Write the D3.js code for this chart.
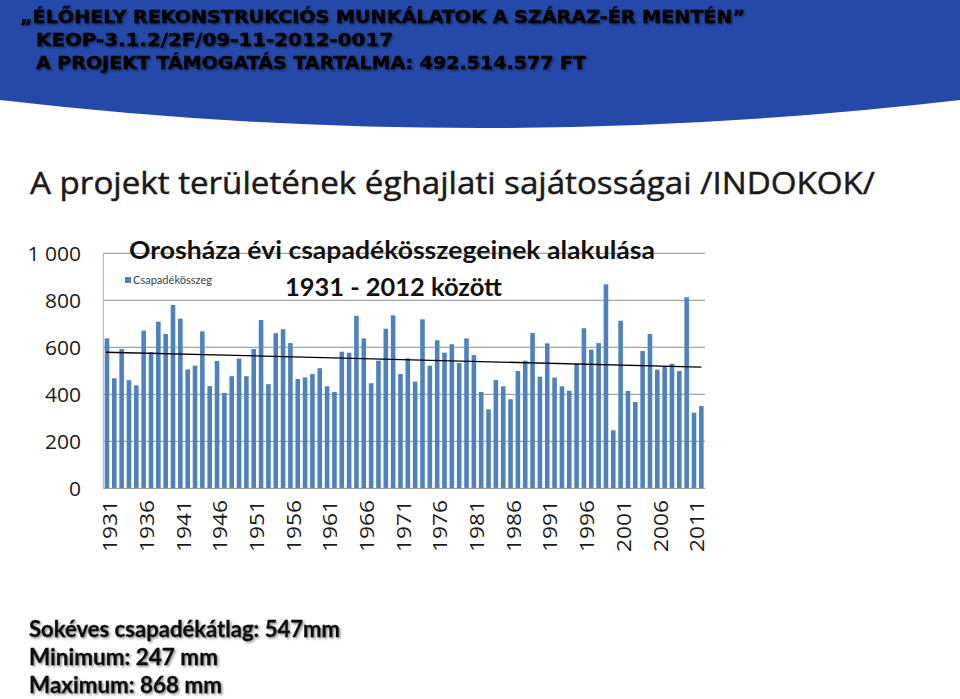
<!DOCTYPE html>
<html><head><meta charset="utf-8">
<script src="https://cdn.jsdelivr.net/npm/d3@7/dist/d3.min.js"></script>
<style>html,body{margin:0;padding:0;background:#fff;overflow:hidden}</style>
</head><body>
<svg id="c" width="960" height="699"></svg>
<script>
const headerLines = ["„ÉLŐHELY REKONSTRUKCIÓS MUNKÁLATOK A SZÁRAZ-ÉR MENTÉN”", "KEOP-3.1.2/2F/09-11-2012-0017", "A PROJEKT TÁMOGATÁS TARTALMA: 492.514.577 FT"];
const pageTitle = "A projekt területének éghajlati sajátosságai /INDOKOK/";
const chartTitle = ["Orosháza évi csapadékösszegeinek alakulása", "1931 - 2012 között"];
const seriesName = "Csapadékösszeg";
const years = [1931,1932,1933,1934,1935,1936,1937,1938,1939,1940,1941,1942,1943,1944,1945,1946,1947,1948,1949,1950,1951,1952,1953,1954,1955,1956,1957,1958,1959,1960,1961,1962,1963,1964,1965,1966,1967,1968,1969,1970,1971,1972,1973,1974,1975,1976,1977,1978,1979,1980,1981,1982,1983,1984,1985,1986,1987,1988,1989,1990,1991,1992,1993,1994,1995,1996,1997,1998,1999,2000,2001,2002,2003,2004,2005,2006,2007,2008,2009,2010,2011,2012];
const precipitation = [638,468,593,460,438,671,580,709,657,780,722,506,522,668,435,542,406,477,552,477,593,716,443,660,677,618,465,472,486,511,434,410,581,577,734,638,447,543,679,736,486,553,454,719,522,630,577,613,533,638,567,410,336,461,434,379,499,543,661,475,617,471,434,415,529,681,590,618,868,247,713,414,367,584,657,505,520,530,499,813,322,350];
const trendValues = [579, 516];
const yTicks = [0, 200, 400, 600, 800, 1000];
const xTickLabels = [1931,1936,1941,1946,1951,1956,1961,1966,1971,1976,1981,1986,1991,1996,2001,2006,2011];
const footerLines = ["Sokéves csapadékátlag: 547mm", "Minimum: 247 mm", "Maximum: 868 mm"];

const svg = d3.select("#c");
const defs = svg.append("defs");
const f = defs.append("filter").attr("id","sh").attr("x","-5%").attr("y","-30%").attr("width","110%").attr("height","160%");
f.append("feDropShadow").attr("dx",1.5).attr("dy",1.5).attr("stdDeviation",1).attr("flood-color","#000").attr("flood-opacity",0.45);

// header band
svg.append("path").attr("d","M0,0 H960 V100 Q480,156 0,100 Z").attr("fill","#2549a9");

const hdr = [{x:20,y:23,len:725},{x:36,y:46,len:357},{x:36,y:69,len:550}];
headerLines.forEach((t,i)=>{
  svg.append("text").attr("x",hdr[i].x).attr("y",hdr[i].y).text(t)
    .attr("font-family","DejaVu Sans").attr("font-weight","bold").attr("font-size",18.5)
    .attr("fill","#000").attr("stroke","#000").attr("stroke-width",0.4).attr("filter","url(#sh)")
    .attr("textLength",hdr[i].len).attr("lengthAdjust","spacingAndGlyphs");
});

svg.append("text").attr("x",30).attr("y",194).text(pageTitle)
  .attr("font-family","Open Sans").attr("font-size",31).attr("fill","#1a1a1a")
  .attr("stroke","#1a1a1a").attr("stroke-width",0.5)
  .attr("textLength",845).attr("lengthAdjust","spacingAndGlyphs");

// chart
const L=103.3, R=705, T=253.3, B=488.3;
const x = d3.scaleBand().domain(years).range([L,R]).paddingInner(0.375).paddingOuter(0.1875);
const y = d3.scaleLinear().domain([0,1000]).range([B,T]);

const g = svg.append("g");
g.selectAll("line.grid").data(yTicks.filter(d=>d>0)).join("line").attr("class","grid")
  .attr("x1",L).attr("x2",R).attr("y1",d=>y(d)).attr("y2",d=>y(d))
  .attr("stroke","#8c8c8c").attr("stroke-width",1);
g.append("line").attr("x1",L).attr("x2",L).attr("y1",T).attr("y2",B).attr("stroke","#b0b0b0");

g.selectAll("rect.bar").data(precipitation).join("rect").attr("class","bar")
  .attr("x",(d,i)=>x(years[i])).attr("width",x.bandwidth())
  .attr("y",d=>y(d)).attr("height",d=>B-y(d)).attr("fill","#4f81bd");

g.append("line").attr("x1",L).attr("x2",R).attr("y1",B).attr("y2",B).attr("stroke","#8c8c8c");

// trend line
const c0 = x(years[0])+x.bandwidth()/2, c1 = x(years[years.length-1])+x.bandwidth()/2;
g.append("line").attr("x1",c0-1).attr("x2",c1).attr("y1",y(trendValues[0])).attr("y2",y(trendValues[1]))
  .attr("stroke","#000").attr("stroke-width",1.3);

// y labels
const yl = svg.append("g");
yTicks.forEach(v=>{
  const t = yl.append("text").attr("x",81).attr("y",y(v)).attr("dy","0.36em")
    .attr("text-anchor","end").attr("font-family","Open Sans").attr("font-size",20).attr("fill","#1a1a1a")
    .text(v===1000?"1 000":String(v));
  const w = t.node().getComputedTextLength();
  t.attr("textLength",w*1.05).attr("lengthAdjust","spacingAndGlyphs");
});

// x labels
xTickLabels.forEach(yr=>{
  const cx = x(yr)+x.bandwidth()/2+3;
  svg.append("text").attr("transform",`translate(${cx},500) rotate(-90)`)
    .attr("text-anchor","end").attr("dy","0.36em")
    .attr("font-family","Open Sans").attr("font-size",20).attr("fill","#1a1a1a")
    .attr("textLength",52).attr("lengthAdjust","spacingAndGlyphs").text(yr);
});

// chart titles
svg.append("text").attr("x",129).attr("y",259).text(chartTitle[0])
  .attr("font-family","Lato").attr("font-weight","bold").attr("font-size",24).attr("fill","#111")
  .attr("textLength",526).attr("lengthAdjust","spacingAndGlyphs");
svg.append("text").attr("x",285).attr("y",296).text(chartTitle[1])
  .attr("font-family","Lato").attr("font-weight","bold").attr("font-size",24).attr("fill","#111")
  .attr("textLength",217).attr("lengthAdjust","spacingAndGlyphs");

// legend
svg.append("rect").attr("x",125).attr("y",277).attr("width",6).attr("height",6).attr("fill","#4f81bd");
svg.append("text").attr("x",133).attr("y",283.5).text(seriesName)
  .attr("font-family","Lato").attr("font-size",11).attr("fill","#404040")
  .attr("textLength",79).attr("lengthAdjust","spacingAndGlyphs");

// footer
const ft = [{y:637,len:311},{y:665,len:189},{y:693,len:193}];
footerLines.forEach((t,i)=>{
  svg.append("text").attr("x",29).attr("y",ft[i].y).text(t)
    .attr("font-family","Lato").attr("font-weight","bold").attr("font-size",22).attr("fill","#111")
    .attr("stroke","#111").attr("stroke-width",0.3).attr("filter","url(#sh)")
    .attr("textLength",ft[i].len).attr("lengthAdjust","spacingAndGlyphs");
});
</script>
</body></html>
